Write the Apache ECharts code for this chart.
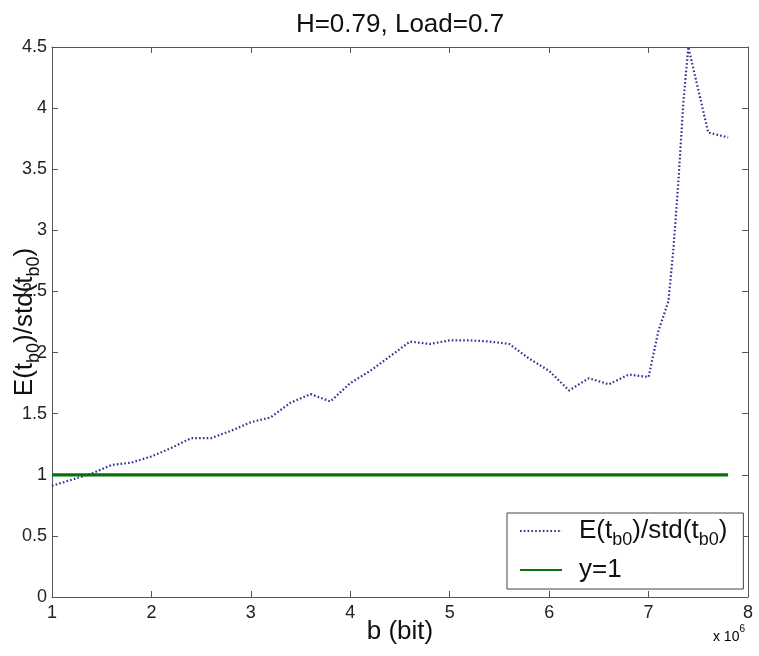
<!DOCTYPE html>
<html>
<head>
<meta charset="utf-8">
<script src="https://cdn.jsdelivr.net/npm/echarts@6/dist/echarts.min.js"></script>
<style>html,body{margin:0;padding:0;background:#fff;}#c{width:759px;height:656px;}</style>
</head>
<body>
<div id="c"></div>
<script>
// b in units of 1e6 bit
const bitsM = [1,1.2,1.4,1.6,1.8,2,2.2,2.4,2.6,2.8,3,3.2,3.4,3.6,3.8,4,4.2,4.4,4.6,4.8,5,5.2,5.4,5.6,5.8,6,6.2,6.4,6.6,6.8,7,7.1,7.2,7.25,7.3,7.35,7.4,7.6,7.8];
const ratio = [0.91,0.96,1.01,1.08,1.10,1.15,1.22,1.30,1.30,1.36,1.43,1.47,1.59,1.66,1.60,1.75,1.85,1.97,2.09,2.07,2.10,2.10,2.09,2.07,1.95,1.85,1.69,1.79,1.74,1.82,1.80,2.18,2.42,2.85,3.40,4.05,4.50,3.80,3.76];
const refX = [1, 7.8];
const refY = [1, 1];
const xTicks = [1,2,3,4,5,6,7,8];
const yTicks = [0,0.5,1,1.5,2,2.5,3,3.5,4,4.5];

const FONT = "'Liberation Sans', Arial, sans-serif";
const chart = echarts.init(document.getElementById('c'), null, {renderer: 'canvas'});
const subRich = {
  m: {fontSize: 26, fontFamily: FONT, color: '#111', lineHeight: 36, verticalAlign: 'middle'},
  s: {fontSize: 18, fontFamily: FONT, color: '#111', lineHeight: 18, verticalAlign: 'bottom'}
};
const axisCommon = {
  axisLine: {show: true, onZero: false, lineStyle: {color: '#555', width: 1}},
  axisTick: {show: true, inside: true, length: 6, lineStyle: {color: '#555'}},
  splitLine: {show: false}
};
chart.setOption({
  animation: false,
  backgroundColor: '#fff',
  title: {
    text: 'H=0.79, Load=0.7', left: 400, textAlign: 'center', top: 12, padding: 0,
    textStyle: {fontSize: 26, fontWeight: 'normal', fontFamily: FONT, color: '#111'}
  },
  grid: {left: 52, right: 11, top: 47, bottom: 59, containLabel: false, outerBoundsMode: 'none'},
  legend: {
    orient: 'vertical', left: 507, top: 513,
    padding: [5, 16, 6, 12], itemGap: 8,
    itemWidth: 42, itemHeight: 14,
    borderColor: '#444', borderWidth: 1, backgroundColor: '#fff',
    itemStyle: {opacity: 0},
    data: ['ratio', 'ref'],
    formatter: function (n) {
      return n === 'ratio' ? '{m|E(t}{s|b0}{m|)/std(t}{s|b0}{m|)}' : '{m|y=1}';
    },
    textStyle: {padding: [0, 0, 0, 12], rich: subRich}
  },
  xAxis: [
    Object.assign({}, axisCommon, {
      type: 'value', position: 'bottom', min: xTicks[0], max: xTicks[xTicks.length-1], interval: 1,
      axisLabel: {margin: 7, fontSize: 18, fontFamily: FONT, color: '#222'},
      name: 'b (bit)', nameLocation: 'middle', nameGap: 22, nameMoveOverlap: false,
      nameTextStyle: {fontSize: 26, fontFamily: FONT, color: '#111', verticalAlign: 'top', lineHeight: 26}
    }),
    Object.assign({}, axisCommon, {
      type: 'value', position: 'top', min: xTicks[0], max: xTicks[xTicks.length-1], interval: 1,
      axisLabel: {show: false}
    })
  ],
  yAxis: [
    Object.assign({}, axisCommon, {
      type: 'value', position: 'left', min: yTicks[0], max: yTicks[yTicks.length-1], interval: 0.5,
      axisLabel: {margin: 5, fontSize: 18, fontFamily: FONT, color: '#222'},
      name: '{m|E(t}{s|b0}{m|)/std(t}{s|b0}{m|)}', nameLocation: 'middle', nameGap: 9, nameRotate: 90,
      nameMoveOverlap: false,
      nameTextStyle: {rich: subRich}
    }),
    Object.assign({}, axisCommon, {
      type: 'value', position: 'right', min: yTicks[0], max: yTicks[yTicks.length-1], interval: 0.5,
      axisLabel: {show: false}
    })
  ],
  graphic: [{
    type: 'text', right: 14, top: 624,
    style: {
      text: '{a|x 10}{b|6}',
      rich: {
        a: {fontSize: 14, fontFamily: FONT, color: '#222', lineHeight: 20, verticalAlign: 'bottom'},
        b: {fontSize: 10, fontFamily: FONT, color: '#222', lineHeight: 10, verticalAlign: 'top'}
      }
    }
  }],
  series: [
    {
      name: 'ratio', type: 'line', xAxisIndex: 0, yAxisIndex: 0,
      data: bitsM.map((x, i) => [x, ratio[i]]),
      symbol: 'none', clip: true,
      lineStyle: {color: '#303094', width: 2.2, type: [1.6, 2.2]},
      itemStyle: {color: '#303094'}
    },
    {
      name: 'ref', type: 'line', xAxisIndex: 0, yAxisIndex: 0,
      data: refX.map((x, i) => [x, refY[i]]),
      symbol: 'none',
      lineStyle: {color: '#0a720a', width: 3.2},
      itemStyle: {color: '#0a720a'}
    }
  ]
});
</script>
</body>
</html>
